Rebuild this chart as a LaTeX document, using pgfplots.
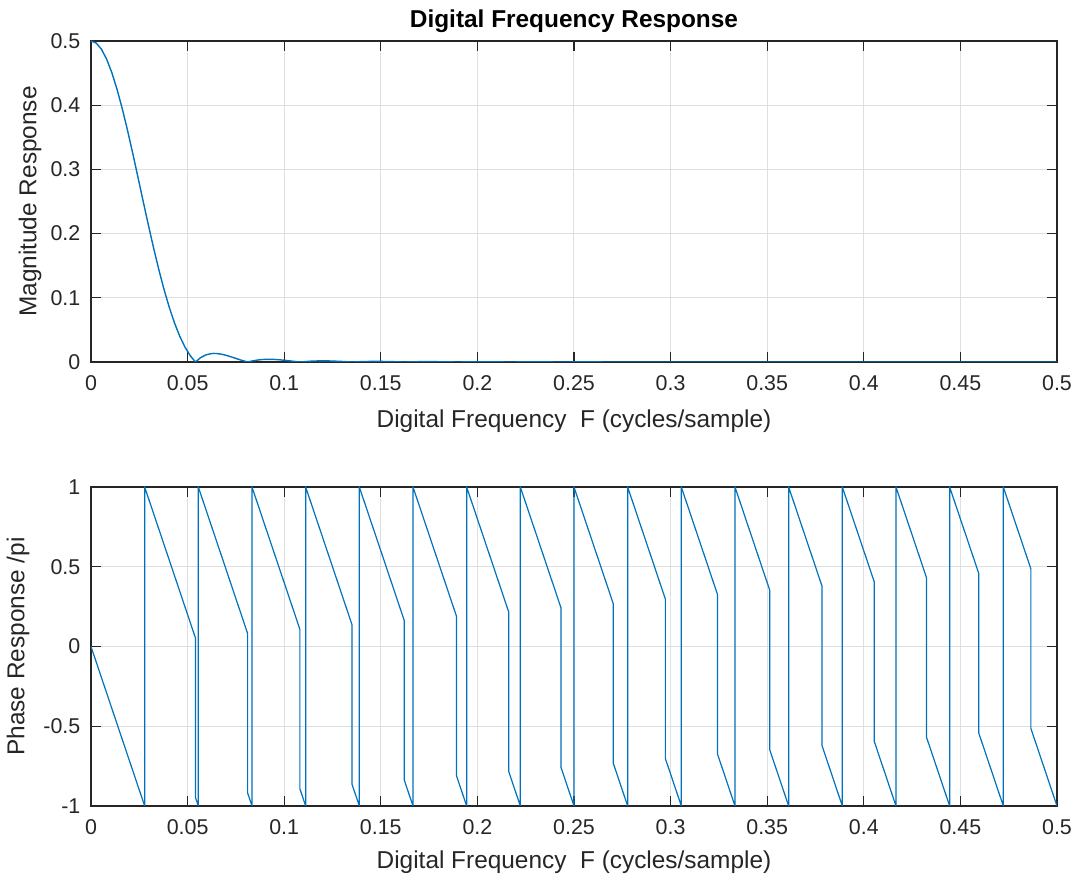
\documentclass[border=0pt]{standalone}
\usepackage{fontspec}
\setmainfont{Liberation Sans}
\usepackage{pgfplots}
\pgfplotsset{compat=1.18}
\definecolor{mblue}{RGB}{0,114,189}
\definecolor{axgray}{RGB}{38,38,38}
\definecolor{gridgray}{RGB}{223,223,223}
\pgfplotsset{
  mstyle/.style={
    scale only axis,
    width=483pt,
    axis line style={axgray, line width=0.6pt},
    tick style={axgray, line width=0.6pt},
    major tick length=5pt,
    tick align=inside,
    xmajorgrids, ymajorgrids,
    grid style={gridgray, line width=0.5pt},
    xmin=0, xmax=0.5,
    xtick={0,0.05,...,0.5},
    scaled ticks=false,
    /pgf/number format/assume math mode=true,
    /pgf/number format/fixed,
    /pgf/number format/precision=2,
    ticklabel style={font=\fontsize{10.7pt}{12pt}\selectfont, text=axgray},
    xticklabel style={yshift=-3.0pt},
    yticklabel style={xshift=-1.8pt},
    label style={font=\fontsize{12.2pt}{14pt}\selectfont, text=axgray},
  }
}
\begin{document}
\begin{tikzpicture}
\useasboundingbox (0,0) rectangle (539pt,440pt);
% top axis
\begin{axis}[mstyle,
  at={(45.5pt,419.5pt)}, anchor=north west,
  height=160.5pt,
  ymin=0, ymax=0.5,
  ytick={0,0.1,...,0.5},
  title={\bfseries Digital Frequency Response},
  title style={font=\fontsize{12.2pt}{14pt}\selectfont\bfseries, at={(axis description cs:0.5,1.0)}, anchor=base, yshift=0.5pt},
  xlabel={Digital Frequency\ \ F (cycles/sample)},
  xlabel style={at={(axis description cs:0.5,-0.2025)}, anchor=base},
  ylabel={Magnitude Response},
  ylabel style={at={(axis description cs:-0.063,0.5)}, anchor=center},
]
\addplot[mblue, line width=0.7pt] coordinates {
(0,0.5) (0.0027027,0.49678) (0.0054054,0.48724) (0.0081081,0.47164)
(0.0108108,0.45049) (0.0135135,0.42441) (0.0162162,0.39418) (0.0189189,0.36067)
(0.0216216,0.32482) (0.0243243,0.28761) (0.0270270,0.25) (0.0297297,0.21291)
(0.0324324,0.17718) (0.0351351,0.14354) (0.0378378,0.11262) (0.0405405,0.08488)
(0.0432432,0.06064) (0.0459459,0.04007) (0.0486486,0.02320) (0.0513514,0.00992)
(0.0540541,0) (0.0567568,0.00687) (0.0594595,0.01107) (0.0621622,0.01305)
(0.0635135,0.01334) (0.0648649,0.01325) (0.0675676,0.01213) (0.0702703,0.01011)
(0.0729730,0.00758) (0.0756757,0.00488) (0.0783784,0.00229) (0.0810811,0)
(0.0837838,0.00184) (0.0864865,0.00316) (0.0891892,0.00395) (0.0918919,0.00422)
(0.0945946,0.00404) (0.0972973,0.00352) (0.1,0.00274) (0.1027027,0.00183)
(0.1054054,0.00089) (0.1081081,0) (0.1148649,0.00155) (0.1216216,0.00184)
(0.1283784,0.00110) (0.1351351,0) (0.1418919,0.00081) (0.1486486,0.00099)
(0.1554054,0.00061) (0.1621622,0) (0.1689189,0.00047) (0.1756757,0.00059)
(0.1824324,0.00037) (0.1891892,0) (0.2027027,0.00038) (0.2162162,0)
(0.2297297,0.00026) (0.2432432,0) (0.2567568,0.00019) (0.2702703,0)
(0.5,0)
};
\end{axis}
% bottom axis
\begin{axis}[mstyle,
  at={(45.5pt,196.5pt)}, anchor=north west,
  height=159.5pt,
  ymin=-1, ymax=1,
  ytick={-1,-0.5,0,0.5,1},
  xlabel={Digital Frequency\ \ F (cycles/sample)},
  xlabel style={at={(axis description cs:0.5,-0.1975)}, anchor=base},
  ylabel={Phase Response /pi},
  ylabel style={at={(axis description cs:-0.0756,0.5)}, anchor=center},
]
\addplot[mblue, line width=0.6pt] coordinates {
(0,0) (0.027778,-1) (0.027778,1)
(0.054054,0.054054) (0.054054,-0.945946) (0.055556,-1) (0.055556,1)
(0.081081,0.081081) (0.081081,-0.918919) (0.083333,-1) (0.083333,1)
(0.108108,0.108108) (0.108108,-0.891892) (0.111111,-1) (0.111111,1)
(0.135135,0.135135) (0.135135,-0.864865) (0.138889,-1) (0.138889,1)
(0.162162,0.162162) (0.162162,-0.837838) (0.166667,-1) (0.166667,1)
(0.189189,0.189189) (0.189189,-0.810811) (0.194444,-1) (0.194444,1)
(0.216216,0.216216) (0.216216,-0.783784) (0.222222,-1) (0.222222,1)
(0.243243,0.243243) (0.243243,-0.756757) (0.25,-1) (0.25,1)
(0.270270,0.270270) (0.270270,-0.729730) (0.277778,-1) (0.277778,1)
(0.297297,0.297297) (0.297297,-0.702703) (0.305556,-1) (0.305556,1)
(0.324324,0.324324) (0.324324,-0.675676) (0.333333,-1) (0.333333,1)
(0.351351,0.351351) (0.351351,-0.648649) (0.361111,-1) (0.361111,1)
(0.378378,0.378378) (0.378378,-0.621622) (0.388889,-1) (0.388889,1)
(0.405405,0.405405) (0.405405,-0.594595) (0.416667,-1) (0.416667,1)
(0.432432,0.432432) (0.432432,-0.567568) (0.444444,-1) (0.444444,1)
(0.459459,0.459459) (0.459459,-0.540541) (0.472222,-1) (0.472222,1)
(0.486486,0.486486) (0.486486,-0.513514) (0.5,-1)
};
\end{axis}
\end{tikzpicture}
\end{document}
